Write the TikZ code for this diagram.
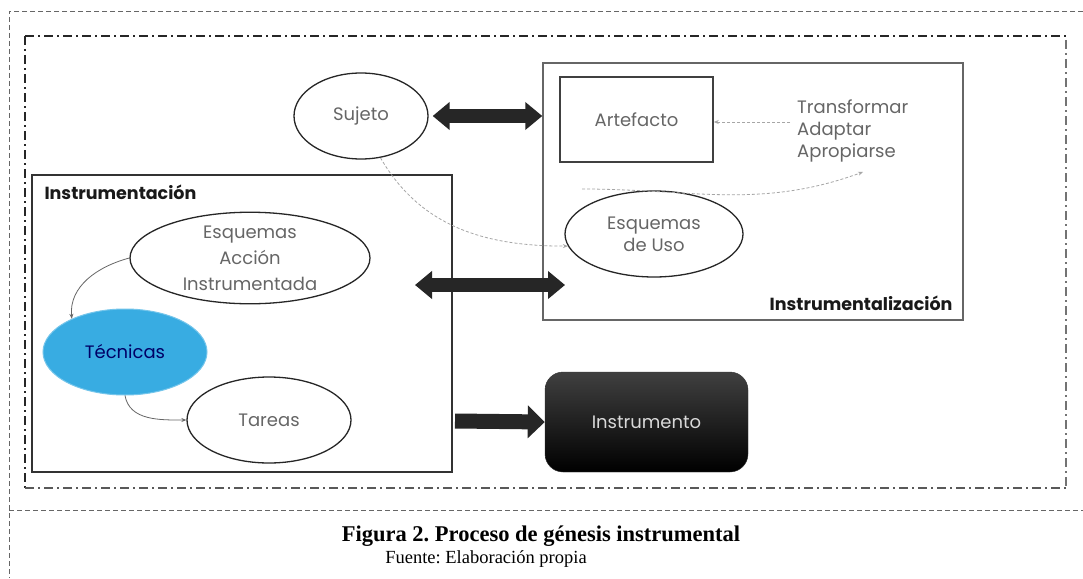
\documentclass[tikz,border=0pt]{standalone}
\usepackage{fontspec}
\setmainfont{Liberation Serif}
\newfontfamily\gothic{Poppins}
\usetikzlibrary{arrows.meta,shapes.geometric}
\definecolor{tecblue}{RGB}{56,172,226}
\frenchspacing
\begin{document}
\begin{tikzpicture}[x=1pt,y=-1pt,
  lbl/.style={font=\gothic\fontsize{18}{22}\selectfont, text=black!60, align=center},
  ell/.style={ellipse, draw=black!85, line width=1.3pt, inner sep=0pt, lbl},
  boxlbl/.style={font=\gothic\bfseries\fontsize{17.5}{20}\selectfont, text=black!90},
  bigdbl/.style={draw=black!85, line width=14pt, {Triangle[length=17pt,width=27pt]}-{Triangle[length=17pt,width=27pt]}},
  bigsgl/.style={draw=black!85, line width=15pt, -{Triangle[length=17pt,width=32pt]}},
  thinarr/.style={draw=black!60, line width=0.8pt, -{Stealth[length=5pt,width=4pt]}},
  faintarr/.style={draw=black!35, line width=0.8pt, dash pattern=on 3pt off 2pt, -{Stealth[length=5pt,width=4pt]}},
  outerframe/.style={draw=black!60, line width=0.8pt, dash pattern=on 5pt off 3pt},
  innerframe/.style={draw=black!85, line width=1.8pt, dash pattern=on 9pt off 4pt on 2pt off 4pt},
  ]
\useasboundingbox (0,0) rectangle (1083,578);
\fill[white] (0,0) rectangle (1083,578);

% outer dashed frame
\draw[outerframe] (1083,11) -- (9,11) -- (9,578);
\draw[outerframe] (9,510) -- (1083,510);

% inner dash-dot frame
\draw[innerframe] (25,36) -- (1066,36);
\draw[innerframe] (25,36) -- (25,488);
\draw[innerframe, draw=black!65, line width=1.4pt] (25,488) -- (1066,488);
\draw[innerframe, draw=black!55, line width=1.2pt] (1066,40) -- (1066,486);

% boxes
\node[draw=black!60, line width=1.5pt, minimum width=420pt, minimum height=257pt, inner sep=0pt] (instrz) at (753,191.5) {};
\node[boxlbl, anchor=base east] (instrzlbl) at (956,310) {Instrumentalización};
\node[draw=black!80, line width=1.3pt, minimum width=420pt, minimum height=297pt, inner sep=0pt] (instrm) at (242,323.5) {};
\node[boxlbl, anchor=base west] (instrmlbl) at (41,199) {Instrumentación};

% nodes
\node[ell, minimum width=134pt, minimum height=86pt] (sujeto) at (361,116) {Sujeto};
\node[draw=black!75, line width=1.5pt, minimum width=153pt, minimum height=85pt, inner sep=0pt, lbl] (artefacto) at (636.5,119.5) {Artefacto};
\node[lbl, align=left, anchor=west, inner sep=0pt] (trans) at (797,131) {Transformar\\Adaptar\\Apropiarse};
\node[ell, minimum width=178pt, minimum height=86pt] (esquso) at (654,234) {Esquemas\\de Uso};
\node[ell, minimum width=240pt, minimum height=90pt, font=\gothic\fontsize{18}{26}\selectfont] (ea) at (250,258) {Esquemas\\Acción\\Instrumentada};
\node[ellipse, fill=tecblue, draw=tecblue!70!white, line width=1pt, inner sep=0pt, minimum width=164pt, minimum height=86pt, lbl, text=black!60!blue] (tec) at (125,352) {Técnicas};
\node[ell, minimum width=164pt, minimum height=86pt] (tareas) at (269,420) {Tareas};
\node[rounded corners=18pt, minimum width=203pt, minimum height=100pt, top color=black!75, bottom color=black, draw=black!80, inner sep=0pt, font=\gothic\fontsize{18}{20}\selectfont, text=white!85!black] (instrumento) at (646.5,422) {Instrumento};

% thick arrows
\coordinate (m1) at (415,285);
\coordinate (m2) at (565,285);
\coordinate (m3) at (455,421);
\draw[bigdbl] ([xshift=4pt]sujeto.east) -- (sujeto.east -| instrz.west);
\draw[bigdbl] (m1) -- (m2);
\draw[bigsgl] (m3) -- (instrumento.west);

% thin arrows
\coordinate (c1) at (582,189);
\coordinate (c2) at (863,172);
\coordinate (c3) at (790,122);
\draw[faintarr] (sujeto.-65) to[out=-60,in=180] (esquso.188);
\draw[faintarr] (c1) to[out=0,in=200] (c2);
\draw[faintarr] (c3) -- (artefacto.east |- c3);
\draw[thinarr] (ea.west) to[out=195,in=95] (tec.148);
\draw[thinarr] (tec.south) to[out=-80,in=180] (tareas.west);

% caption
\node[font=\bfseries\fontsize{22.5}{24}\selectfont, anchor=base] (cap) at (541,541) {Figura 2. Proceso de génesis instrumental};
\node[font=\fontsize{18.5}{20}\selectfont, anchor=base] (src) at (486,563) {Fuente: Elaboración propia};
\end{tikzpicture}
\end{document}
